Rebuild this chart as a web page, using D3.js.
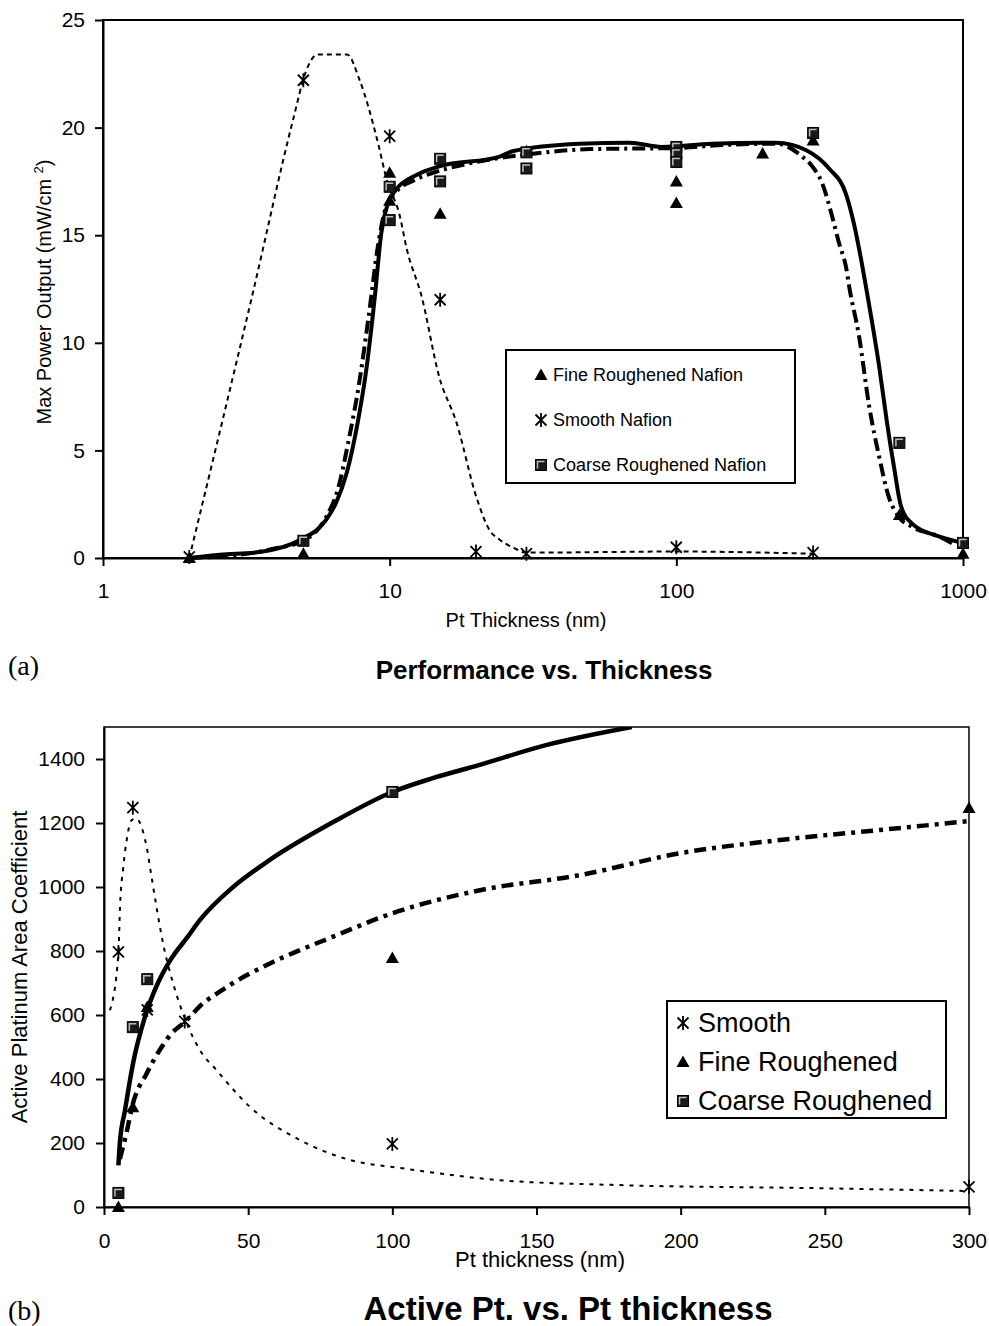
<!DOCTYPE html>
<html>
<head>
<meta charset="utf-8">
<script src="https://cdn.jsdelivr.net/npm/d3@7/dist/d3.min.js"></script>
<style>
  body { margin: 0; background: #fff; }
  text { font-family: 'Liberation Sans', Arial, sans-serif; fill: #000; }
  .serif { font-family: 'Liberation Serif', 'Times New Roman', serif; }
</style>
</head>
<body>
<div id="chart"></div>
<script>
// ---- (a) Performance vs. Thickness ----
const perfTicksX = [1, 10, 100, 1000]
const perfTicksY = [0, 5, 10, 15, 20, 25]
const perfFine = [[2, 0], [5, 0.2], [10, 17.9], [10, 16.6], [15, 16.0], [30, 18.9], [100, 17.5], [100, 16.5], [200, 18.8], [300, 19.4], [600, 2.0], [1000, 0.2]]
const perfSmooth = [[2, 0.05], [5, 22.2], [10, 19.6], [15, 12.0], [20, 0.3], [30, 0.2], [100, 0.5], [300, 0.25]]
const perfCoarse = [[5, 0.8], [10, 17.25], [10, 15.7], [15, 18.55], [15, 17.5], [30, 18.85], [30, 18.1], [100, 19.1], [100, 18.8], [100, 18.4], [300, 19.75], [600, 5.35], [1000, 0.7]]
// fitted curves
const perfSmoothFit = [[2, 0], [3.33, 12.3], [4.6, 20.35], [5.1, 22.6], [5.6, 23.4], [7.1, 23.4], [7.86, 22.2], [9.1, 19.3], [9.8, 17.5], [10.8, 16.0], [11.5, 14.3], [12.9, 12.2], [14.9, 8.4], [17.1, 6.3], [20.1, 2.8], [22.3, 1.3], [24.2, 0.85], [26.8, 0.5], [30, 0.25], [100, 0.3], [300, 0.2]]
const perfCoarseFit = [[2, 0], [2.56, 0.15], [3.52, 0.28], [4.86, 0.84], [6.0, 1.77], [6.5, 2.56], [7.08, 3.95], [7.76, 6.4], [8.28, 8.7], [8.87, 12.1], [9.35, 15.1], [9.86, 16.5], [10.5, 17.1], [12.4, 17.8], [14.9, 18.2], [24.2, 18.65], [26.8, 18.9], [45.9, 19.25], [68.6, 19.3], [89, 19.1], [133, 19.25], [223, 19.3], [284, 18.95], [341, 18.1], [391, 16.9], [417, 15.5], [445, 13.6], [463, 12.3], [510, 8.9], [543, 6.3], [575, 4.2], [608, 2.4], [664, 1.6], [824, 1.0], [1000, 0.7]]
const perfFineFit = [[2, 0], [3, 0.15], [4, 0.45], [5, 0.8], [6, 1.9], [6.6, 3.2], [7.2, 5.5], [7.8, 8.0], [8.5, 11.5], [9.1, 14.5], [9.7, 16.3], [10.5, 17.0], [12.4, 17.6], [15, 18.0], [20, 18.4], [30, 18.75], [50, 19.0], [100, 19.05], [150, 19.2], [223, 19.25], [275, 18.65], [298, 18.2], [323, 17.4], [350, 15.85], [370, 14.6], [391, 13.5], [401, 12.6], [434, 10.3], [470, 7.1], [510, 4.7], [552, 2.8], [598, 1.9], [664, 1.45], [824, 1.0], [940, 0.6]]
const perfLegend = ['Fine Roughened Nafion', 'Smooth Nafion', 'Coarse Roughened Nafion']

// ---- (b) Active Pt. vs. Pt thickness ----
const areaTicksX = [0, 50, 100, 150, 200, 250, 300]
const areaTicksY = [0, 200, 400, 600, 800, 1000, 1200, 1400]
const areaSmooth = [[5, 797], [10, 1248], [15, 616], [28, 580], [100, 197], [300, 63]]
const areaFine = [[5, 0], [10, 312], [15, 625], [100, 778], [300, 1247]]
const areaCoarse = [[5, 44], [10, 562], [15, 712], [100, 1297]]
const areaSmoothFit = [[2.07, 615], [5.0, 792], [5.55, 938], [6.7, 1063], [7.85, 1146], [9.6, 1209], [11.3, 1214], [13.0, 1188], [14.8, 1125], [16.5, 1031], [18.2, 938], [20.5, 823], [24, 698], [28, 590], [33.3, 490], [39, 428], [50.6, 313], [68, 209], [85.3, 147], [102.7, 122], [137, 84], [176.6, 69], [246, 59], [300, 50]]
const areaCoarseFit = [[5, 130], [5.5, 200], [7.3, 303], [10.1, 450], [14.2, 594], [18.7, 700], [22.9, 770], [29, 844], [33.3, 897], [44.8, 1000], [56.4, 1078], [79.5, 1203], [100, 1297], [114, 1340], [130, 1381], [153.6, 1444], [183, 1500]]
const areaFineFit = [[5.5, 150], [8, 240], [9.7, 312], [14.9, 419], [20, 500], [23.6, 544], [28, 578], [34.4, 637], [40, 672], [44.8, 700], [56.4, 756], [79.5, 845], [100, 918], [130.4, 990], [165, 1037], [200, 1106], [234.5, 1147], [269, 1178], [300, 1206]]
const areaLegend = ['Smooth', 'Fine Roughened', 'Coarse Roughened']

const svg = d3.select('#chart')
  .append('svg')
  .attr('width', 989)
  .attr('height', 1326)

// excel-ish markers
function marker (g, type, cx, cy) {
  const m = g.append('g').attr('transform', `translate(${cx},${cy})`)
  if (type === 'triangle') {
    m.append('path').attr('d', 'M0,-6.5L6.5,5L-6.5,5Z').attr('fill', '#000')
  } else if (type === 'star') {
    m.append('path')
      .attr('d', 'M-5.5,-5.5L5.5,5.5M-5.5,5.5L5.5,-5.5M0,-7L0,7')
      .attr('stroke', '#000')
      .attr('stroke-width', 1.8)
      .attr('fill', 'none')
  } else {
    m.append('rect')
      .attr('x', -5.5).attr('y', -5.5)
      .attr('width', 11).attr('height', 11)
      .attr('fill', '#1a1a1a')
      .attr('stroke', '#000')
    m.append('path')
      .attr('d', 'M-3.5,3.5L-3.5,-3.5L3.5,-3.5')
      .attr('stroke', '#bdbdbd')
      .attr('stroke-width', 1.5)
      .attr('fill', 'none')
  }
}

function styleAxis (g, size) {
  g.select('.domain').attr('stroke-width', 2)
  g.selectAll('.tick line').attr('stroke-width', 2)
  g.selectAll('.tick text')
    .attr('font-size', size)
    .attr('font-family', "'Liberation Sans', Arial, sans-serif")
}

// ================= chart (a) =================
const xa = d3.scaleLog().domain([1, 1000]).range([103, 963])
const ya = d3.scaleLinear().domain([0, 25]).range([558, 20])

svg.append('rect')
  .attr('x', 103).attr('y', 20)
  .attr('width', 860).attr('height', 538)
  .attr('fill', 'none')
  .attr('stroke', '#000')
  .attr('stroke-width', 2)

svg.append('g')
  .attr('transform', 'translate(0,558)')
  .call(d3.axisBottom(xa).tickValues(perfTicksX).tickFormat(d3.format('d')).tickSize(8).tickSizeOuter(0).tickPadding(17))
  .call(g => styleAxis(g, 21))

svg.append('g')
  .attr('transform', 'translate(103,0)')
  .call(d3.axisLeft(ya).tickValues(perfTicksY).tickFormat(d3.format('d')).tickSize(8).tickSizeOuter(0).tickPadding(10))
  .call(g => styleAxis(g, 21))

const lineA = d3.line()
  .x(d => xa(d[0]))
  .y(d => ya(d[1]))
  .curve(d3.curveMonotoneX)

svg.append('path')
  .attr('d', lineA(perfSmoothFit))
  .attr('fill', 'none')
  .attr('stroke', '#000')
  .attr('stroke-width', 2)
  .attr('stroke-dasharray', '5,4')

svg.append('path')
  .attr('d', lineA(perfFineFit))
  .attr('fill', 'none')
  .attr('stroke', '#000')
  .attr('stroke-width', 4)
  .attr('stroke-dasharray', '13,5,3,5')

svg.append('path')
  .attr('d', lineA(perfCoarseFit))
  .attr('fill', 'none')
  .attr('stroke', '#000')
  .attr('stroke-width', 4)

const ptsA = svg.append('g')
perfFine.forEach(d => marker(ptsA, 'triangle', xa(d[0]), ya(d[1])))
perfSmooth.forEach(d => marker(ptsA, 'star', xa(d[0]), ya(d[1])))
perfCoarse.forEach(d => marker(ptsA, 'square', xa(d[0]), ya(d[1])))

// legend (a)
const legA = svg.append('g')
legA.append('rect')
  .attr('x', 506).attr('y', 350)
  .attr('width', 289).attr('height', 133)
  .attr('fill', '#fff')
  .attr('stroke', '#000')
  .attr('stroke-width', 2)
const typesA = ['triangle', 'star', 'square']
perfLegend.forEach((name, i) => {
  const by = 381 + i * 45
  marker(legA, typesA[i], 541, by - 6)
  legA.append('text')
    .attr('x', 553).attr('y', by)
    .attr('font-size', 18)
    .text(name)
})

svg.append('text')
  .attr('x', 526).attr('y', 627)
  .attr('text-anchor', 'middle')
  .attr('font-size', 20)
  .text('Pt Thickness (nm)')

const yTitleA = svg.append('text')
  .attr('transform', 'translate(51,292) rotate(-90)')
  .attr('text-anchor', 'middle')
  .attr('font-size', 20)
yTitleA.append('tspan').text('Max Power Output (mW/cm ')
yTitleA.append('tspan').attr('dy', -8).attr('font-size', 13).text('2')
yTitleA.append('tspan').attr('dy', 8).text(')')

svg.append('text')
  .attr('class', 'serif')
  .attr('x', 8).attr('y', 675)
  .attr('font-size', 28)
  .text('(a)')

svg.append('text')
  .attr('x', 544).attr('y', 679)
  .attr('text-anchor', 'middle')
  .attr('font-size', 26)
  .attr('font-weight', 'bold')
  .text('Performance vs. Thickness')

// ================= chart (b) =================
const xb = d3.scaleLinear().domain([0, 300]).range([104, 969])
const yb = d3.scaleLinear().domain([0, 1500]).range([1207, 727])

svg.append('defs')
  .append('clipPath').attr('id', 'clipB')
  .append('rect')
  .attr('x', 104).attr('y', 727)
  .attr('width', 865).attr('height', 480)

svg.append('rect')
  .attr('x', 104).attr('y', 727)
  .attr('width', 865).attr('height', 480)
  .attr('fill', 'none')
  .attr('stroke', '#000')
  .attr('stroke-width', 1.5)

svg.append('g')
  .attr('transform', 'translate(0,1207)')
  .call(d3.axisBottom(xb).tickValues(areaTicksX).tickFormat(d3.format('d')).tickSize(8).tickSizeOuter(0).tickPadding(18))
  .call(g => styleAxis(g, 21))

svg.append('g')
  .attr('transform', 'translate(104,0)')
  .call(d3.axisLeft(yb).tickValues(areaTicksY).tickFormat(d3.format('d')).tickSize(8).tickSizeOuter(0).tickPadding(11))
  .call(g => styleAxis(g, 21))

const lineB = d3.line()
  .x(d => xb(d[0]))
  .y(d => yb(d[1]))
  .curve(d3.curveMonotoneX)

const curvesB = svg.append('g').attr('clip-path', 'url(#clipB)')
curvesB.append('path')
  .attr('d', lineB(areaSmoothFit))
  .attr('fill', 'none')
  .attr('stroke', '#000')
  .attr('stroke-width', 2)
  .attr('stroke-dasharray', '4,6')
curvesB.append('path')
  .attr('d', lineB(areaFineFit))
  .attr('fill', 'none')
  .attr('stroke', '#000')
  .attr('stroke-width', 4.5)
  .attr('stroke-dasharray', '12,6,4,6')
curvesB.append('path')
  .attr('d', lineB(areaCoarseFit))
  .attr('fill', 'none')
  .attr('stroke', '#000')
  .attr('stroke-width', 4.5)

const ptsB = svg.append('g')
areaSmooth.forEach(d => marker(ptsB, 'star', xb(d[0]), yb(d[1])))
areaFine.forEach(d => marker(ptsB, 'triangle', xb(d[0]), yb(d[1])))
areaCoarse.forEach(d => marker(ptsB, 'square', xb(d[0]), yb(d[1])))

// legend (b)
const legB = svg.append('g')
legB.append('rect')
  .attr('x', 667).attr('y', 1001)
  .attr('width', 279).attr('height', 117)
  .attr('fill', '#fff')
  .attr('stroke', '#000')
  .attr('stroke-width', 2)
const typesB = ['star', 'triangle', 'square']
areaLegend.forEach((name, i) => {
  const by = 1032 + i * 39
  marker(legB, typesB[i], 683, by - 9)
  legB.append('text')
    .attr('x', 698).attr('y', by)
    .attr('font-size', 27)
    .text(name)
})

svg.append('text')
  .attr('x', 540).attr('y', 1267)
  .attr('text-anchor', 'middle')
  .attr('font-size', 22)
  .text('Pt thickness (nm)')

svg.append('text')
  .attr('transform', 'translate(27,967) rotate(-90)')
  .attr('text-anchor', 'middle')
  .attr('font-size', 22)
  .text('Active Platinum Area Coefficient')

svg.append('text')
  .attr('class', 'serif')
  .attr('x', 8).attr('y', 1320)
  .attr('font-size', 28)
  .text('(b)')

svg.append('text')
  .attr('x', 568).attr('y', 1320)
  .attr('text-anchor', 'middle')
  .attr('font-size', 33)
  .attr('font-weight', 'bold')
  .text('Active Pt. vs. Pt thickness')
</script>
</body>
</html>
